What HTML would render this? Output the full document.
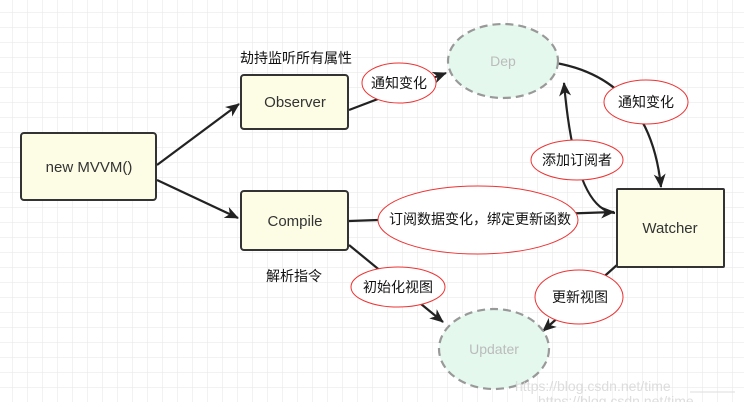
<!DOCTYPE html>
<html><head><meta charset="utf-8"><style>
html,body{margin:0;padding:0;background:#fff}
svg{display:block}
text{font-family:"Liberation Sans","Noto Sans CJK SC",sans-serif}
</style></head><body>
<svg width="744" height="402" viewBox="0 0 744 402" xmlns="http://www.w3.org/2000/svg">
<defs>
<pattern id="g" width="15" height="15" patternUnits="userSpaceOnUse" x="-2" y="-2">
<path d="M15 0V15M0 15H15" fill="none" stroke="#e6e6e6" stroke-width="1"/>
</pattern>
<marker id="a" markerWidth="14" markerHeight="14" refX="13" refY="7" orient="auto" markerUnits="userSpaceOnUse" viewBox="0 0 14 14">
<path d="M0 1L14 7L0 13L4 7Z" fill="#222"/>
</marker>
</defs>
<rect width="744" height="402" fill="url(#g)"/>
<g stroke="#222" stroke-width="2.2" fill="none" marker-end="url(#a)">
<path d="M157 165L239 104"/>
<path d="M157 180L238 218"/>
<path d="M349 110L446 73"/>
<path d="M556 63Q650 80 661 187"/>
<path d="M615 213Q575 210 564 83"/>
<path d="M349 221L614 212"/>
<path d="M349 245L443 322"/>
<path d="M617 265L543 331"/>
</g>
<g fill="#fdfde6" stroke="#333" stroke-width="2">
<rect x="21" y="133" width="135" height="67" rx="3"/>
<rect x="241" y="75" width="107" height="54" rx="3"/>
<rect x="241" y="191" width="107" height="59" rx="3"/>
<rect x="617" y="189" width="107" height="78" rx="1"/>
</g>
<g fill="#e4f8ee" stroke="#999" stroke-width="2.2" stroke-dasharray="8,5">
<ellipse cx="503" cy="61" rx="55" ry="37"/>
<ellipse cx="494" cy="349" rx="55" ry="40"/>
</g>
<g fill="#fff" stroke="#ee3333" stroke-width="1">
<ellipse cx="399" cy="83" rx="37" ry="20"/>
<ellipse cx="646" cy="102" rx="42" ry="22"/>
<ellipse cx="577" cy="160" rx="46" ry="20"/>
<ellipse cx="478" cy="220" rx="100" ry="34"/>
<ellipse cx="398" cy="287" rx="47" ry="20"/>
<ellipse cx="579" cy="297" rx="44" ry="27"/>
</g>
<g font-size="15" fill="#333" text-anchor="middle">
<text x="89" y="172">new MVVM()</text>
<text x="295" y="107">Observer</text>
<text x="295" y="226">Compile</text>
<text x="670" y="233">Watcher</text>
</g>
<g font-size="14" fill="#bbb" text-anchor="middle">
<text x="503" y="66">Dep</text>
<text x="494" y="354">Updater</text>
</g>
<g font-size="14" fill="#111" text-anchor="middle">
<text x="296" y="63">劫持监听所有属性</text>
<text x="294" y="281">解析指令</text>
<text x="399" y="88">通知变化</text>
<text x="646" y="107">通知变化</text>
<text x="577" y="165">添加订阅者</text>
<text x="480" y="224">订阅数据变化，绑定更新函数</text>
<text x="398" y="292">初始化视图</text>
<text x="580" y="302">更新视图</text>
</g>
<g font-size="14" fill="#d4d4d4" fill-opacity="0.8">
<text x="515" y="391">https://blog.csdn.net/time</text>
<text x="538" y="406">https://blog.csdn.net/time</text>
</g>
<path d="M690 392H735" stroke="#ddd" stroke-width="1"/>
</svg>
</body></html>
